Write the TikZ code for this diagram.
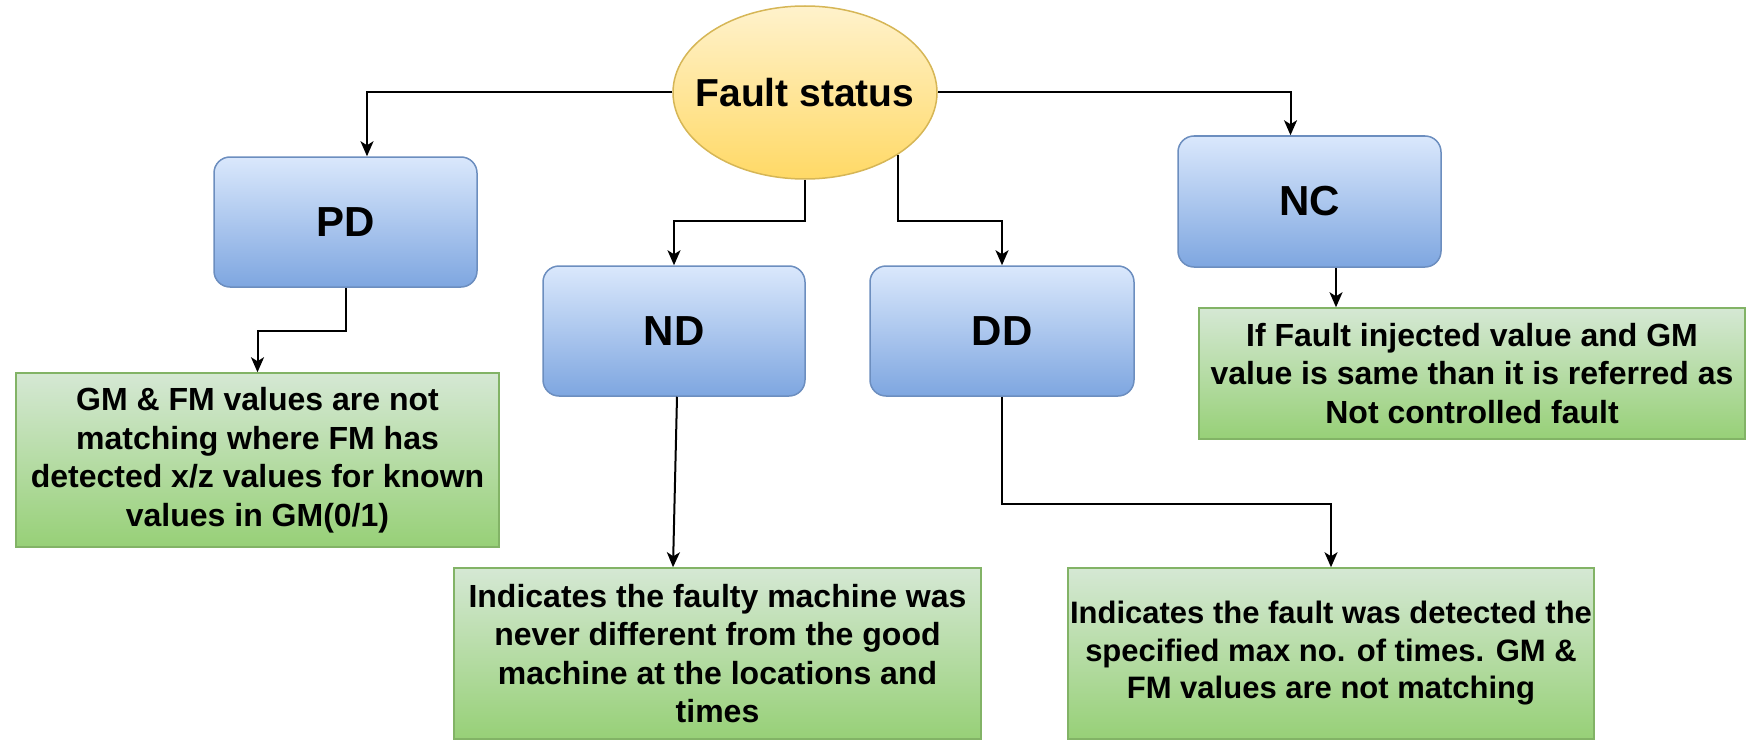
\documentclass[tikz,border=0pt]{standalone}
\usepackage{fontspec}
\setmainfont{Liberation Sans}
\usetikzlibrary{shapes.geometric,arrows.meta,calc}
\definecolor{bluetop}{HTML}{DAE8FC}
\definecolor{bluebot}{HTML}{7EA6E0}
\definecolor{blueline}{HTML}{6C8EBF}
\definecolor{greentop}{HTML}{D5E8D4}
\definecolor{greenbot}{HTML}{97D077}
\definecolor{greenline}{HTML}{82B366}
\definecolor{yeltop}{HTML}{FFF2CC}
\definecolor{yelbot}{HTML}{FFD966}
\definecolor{yelline}{HTML}{D6B656}
\begin{document}
\begin{tikzpicture}[x=1pt,y=-1pt,
  statusbox/.style={ellipse, draw=yelline, line width=1.5pt, top color=yeltop, bottom color=yelbot,
    minimum width=264pt, minimum height=173pt, inner sep=0pt},
  statustext/.style={font=\fontsize{39}{45}\selectfont\bfseries, inner sep=0pt},
  catbox/.style={rectangle, rounded corners=16pt, draw=blueline, line width=1.5pt, top color=bluetop, bottom color=bluebot,
    minimum width=263pt, minimum height=130pt, inner sep=0pt,
    font=\fontsize{42}{48}\selectfont\bfseries},
  descbox/.style={rectangle, draw=greenline, line width=1.5pt, top color=greentop, bottom color=greenbot,
    inner sep=0pt, align=center,
    font=\fontsize{32}{38.5}\selectfont\bfseries},
  arr/.style={draw=black, line width=2pt, -{Stealth[length=15pt,width=13pt,inset=4pt]}}
]
\useasboundingbox (0,0) rectangle (1747,741);

\node[statusbox] (fs) at (805,92.5) {};
\node[statustext] (fst) at (fs.center) {Fault status};

\node[catbox] (pd) at (345.5,222) {PD};
\node[catbox, minimum width=262pt] (nd) at (674,331) {ND};
\node[catbox, minimum width=264pt] (dd) at (1002,331) {DD};
\node[catbox, minimum height=131pt] (nc) at (1309.5,201.5) {NC};

\node[descbox, minimum width=483pt, minimum height=174pt] (pdg) at (257.5,460)
  {GM \& FM values are not\\matching where FM has\\detected x/z values for known\\values in GM(0/1)};
\node[descbox, minimum width=527pt, minimum height=171pt] (ndg) at (717.5,653.5)
  {Indicates the faulty machine was\\never different from the good\\machine at the locations and\\times};
\node[descbox, minimum width=526pt, minimum height=171pt, font=\fontsize{31}{37.5}\selectfont\bfseries] (ddg) at (1331,653.5)
  {Indicates the fault was detected the\\specified max no. of times. GM \&\\FM values are not matching};
\node[descbox, minimum width=546pt, minimum height=131pt] (ncg) at (1472,373.5)
  {If Fault injected value and GM\\value is same than it is referred as\\Not controlled fault};

\coordinate (j1) at (674,221);
\coordinate (j2) at (1002,221);
\coordinate (j3) at (257.5,330.5);
\coordinate (j4) at (1331,503.5);

\draw[arr] (fs.west) -| ([xshift=21.5pt]pd.north);
\draw[arr] (fs.south) |- (j1) -- (nd.north);
\draw[arr] (fs.-34) |- (j2) -- (dd.north);
\draw[arr] (fs.east) -| ([xshift=-19pt]nc.north);
\draw[arr] (pd.south) |- (j3) -- (pdg.north);
\draw[arr] ([xshift=3pt]nd.south) -- ([xshift=-44.5pt]ndg.north);
\draw[arr] (dd.south) |- (j4) -- (ddg.north);
\draw[arr] ([xshift=26.5pt]nc.south) -- ([xshift=-136pt]ncg.north);
\end{tikzpicture}
\end{document}
